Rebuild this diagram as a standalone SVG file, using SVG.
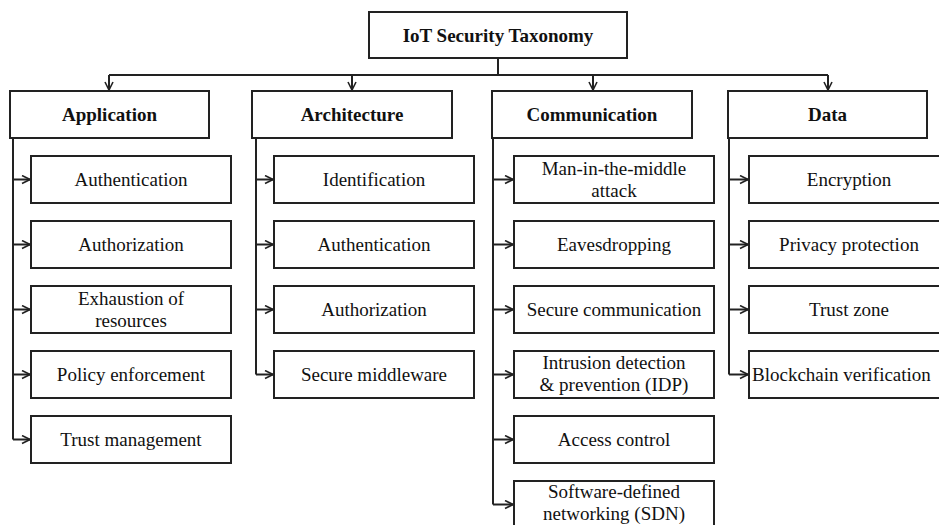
<svg xmlns="http://www.w3.org/2000/svg" width="939" height="525" viewBox="0 0 939 525">
<style>
.box{fill:#fff;stroke:#222;stroke-width:2}
.ln{fill:none;stroke:#222;stroke-width:2}
.t{font-family:"Liberation Serif","Times New Roman",serif;font-size:19px;fill:#111;text-anchor:middle}
.b{font-weight:bold}
</style>
<defs>
<marker id="ah" viewBox="0 0 10 10" refX="9" refY="5" markerWidth="10" markerHeight="10" markerUnits="userSpaceOnUse" orient="auto">
<path d="M1,1 L9,5 L1,9" fill="none" stroke="#222" stroke-width="1.6"/>
</marker>
</defs>
<rect width="939" height="525" fill="#fff"/>
<g id="connectors">
<path class="ln" d="M498,58 V75 M109,75 H828"/>
<path class="ln" d="M109,75 V90" marker-end="url(#ah)"/>
<path class="ln" d="M352,75 V90" marker-end="url(#ah)"/>
<path class="ln" d="M593,75 V90" marker-end="url(#ah)"/>
<path class="ln" d="M828,75 V90" marker-end="url(#ah)"/>
<!-- Application -->
<path class="ln" d="M13,138 V439.5"/>
<path class="ln" d="M12,179.5 H30" marker-end="url(#ah)"/>
<path class="ln" d="M12,244.5 H30" marker-end="url(#ah)"/>
<path class="ln" d="M12,309.5 H30" marker-end="url(#ah)"/>
<path class="ln" d="M12,374.5 H30" marker-end="url(#ah)"/>
<path class="ln" d="M13,439.5 H30" marker-end="url(#ah)"/>
<!-- Architecture -->
<path class="ln" d="M256,138 V374.5"/>
<path class="ln" d="M255,179.5 H273" marker-end="url(#ah)"/>
<path class="ln" d="M255,244.5 H273" marker-end="url(#ah)"/>
<path class="ln" d="M255,309.5 H273" marker-end="url(#ah)"/>
<path class="ln" d="M256,374.5 H273" marker-end="url(#ah)"/>
<!-- Communication -->
<path class="ln" d="M493,138 V504.5"/>
<path class="ln" d="M492,179.5 H513" marker-end="url(#ah)"/>
<path class="ln" d="M492,244.5 H513" marker-end="url(#ah)"/>
<path class="ln" d="M492,309.5 H513" marker-end="url(#ah)"/>
<path class="ln" d="M492,374.5 H513" marker-end="url(#ah)"/>
<path class="ln" d="M492,439.5 H513" marker-end="url(#ah)"/>
<path class="ln" d="M493,504.5 H513" marker-end="url(#ah)"/>
<!-- Data -->
<path class="ln" d="M729,138 V374.5"/>
<path class="ln" d="M728,179.5 H748" marker-end="url(#ah)"/>
<path class="ln" d="M728,244.5 H748" marker-end="url(#ah)"/>
<path class="ln" d="M728,309.5 H748" marker-end="url(#ah)"/>
<path class="ln" d="M729,374.5 H748" marker-end="url(#ah)"/>
</g>
<g id="root"><rect class="box" x="369" y="12" width="258" height="46"/><text class="t b" x="498" y="41.5">IoT Security Taxonomy</text></g>
<g id="application"><rect class="box" x="10" y="91" width="199" height="47"/><text class="t b" x="109.5" y="121">Application</text></g>
<g id="architecture"><rect class="box" x="252" y="91" width="200" height="47"/><text class="t b" x="352" y="121">Architecture</text></g>
<g id="communication"><rect class="box" x="492" y="91" width="200" height="47"/><text class="t b" x="592" y="121">Communication</text></g>
<g id="data"><rect class="box" x="728" y="91" width="199" height="47"/><text class="t b" x="827.5" y="121">Data</text></g>

<g id="app-authentication"><rect class="box" x="31" y="156" width="200" height="47"/><text class="t" x="131" y="186">Authentication</text></g>
<g id="app-authorization"><rect class="box" x="31" y="221" width="200" height="47"/><text class="t" x="131" y="251">Authorization</text></g>
<g id="app-exhaustion"><rect class="box" x="31" y="286" width="200" height="47"/><text class="t" x="131" y="305">Exhaustion of</text><text class="t" x="131" y="327">resources</text></g>
<g id="app-policy"><rect class="box" x="31" y="351" width="200" height="47"/><text class="t" x="131" y="381">Policy enforcement</text></g>
<g id="app-trust"><rect class="box" x="31" y="416" width="200" height="47"/><text class="t" x="131" y="446">Trust management</text></g>

<g id="arch-identification"><rect class="box" x="274" y="156" width="200" height="47"/><text class="t" x="374" y="186">Identification</text></g>
<g id="arch-authentication"><rect class="box" x="274" y="221" width="200" height="47"/><text class="t" x="374" y="251">Authentication</text></g>
<g id="arch-authorization"><rect class="box" x="274" y="286" width="200" height="47"/><text class="t" x="374" y="316">Authorization</text></g>
<g id="arch-middleware"><rect class="box" x="274" y="351" width="200" height="47"/><text class="t" x="374" y="381">Secure middleware</text></g>

<g id="comm-mitm"><rect class="box" x="514" y="156" width="200" height="47"/><text class="t" x="614" y="175">Man-in-the-middle</text><text class="t" x="614" y="197">attack</text></g>
<g id="comm-eaves"><rect class="box" x="514" y="221" width="200" height="47"/><text class="t" x="614" y="251">Eavesdropping</text></g>
<g id="comm-secure"><rect class="box" x="514" y="286" width="200" height="47"/><text class="t" x="614" y="316">Secure communication</text></g>
<g id="comm-idp"><rect class="box" x="514" y="351" width="200" height="47"/><text class="t" x="614" y="369">Intrusion detection</text><text class="t" x="614" y="391">&amp; prevention (IDP)</text></g>
<g id="comm-access"><rect class="box" x="514" y="416" width="200" height="47"/><text class="t" x="614" y="446">Access control</text></g>
<g id="comm-sdn"><rect class="box" x="514" y="481" width="200" height="47"/><text class="t" x="614" y="498">Software-defined</text><text class="t" x="614" y="520">networking (SDN)</text></g>

<g id="data-encryption"><rect class="box" x="749" y="156" width="200" height="47"/><text class="t" x="849" y="186">Encryption</text></g>
<g id="data-privacy"><rect class="box" x="749" y="221" width="200" height="47"/><text class="t" x="849" y="251">Privacy protection</text></g>
<g id="data-trustzone"><rect class="box" x="749" y="286" width="200" height="47"/><text class="t" x="849" y="316">Trust zone</text></g>
<g id="data-blockchain"><rect class="box" x="749" y="351" width="200" height="47"/><text class="t" x="752" y="381" style="text-anchor:start">Blockchain verification</text></g>
</svg>
